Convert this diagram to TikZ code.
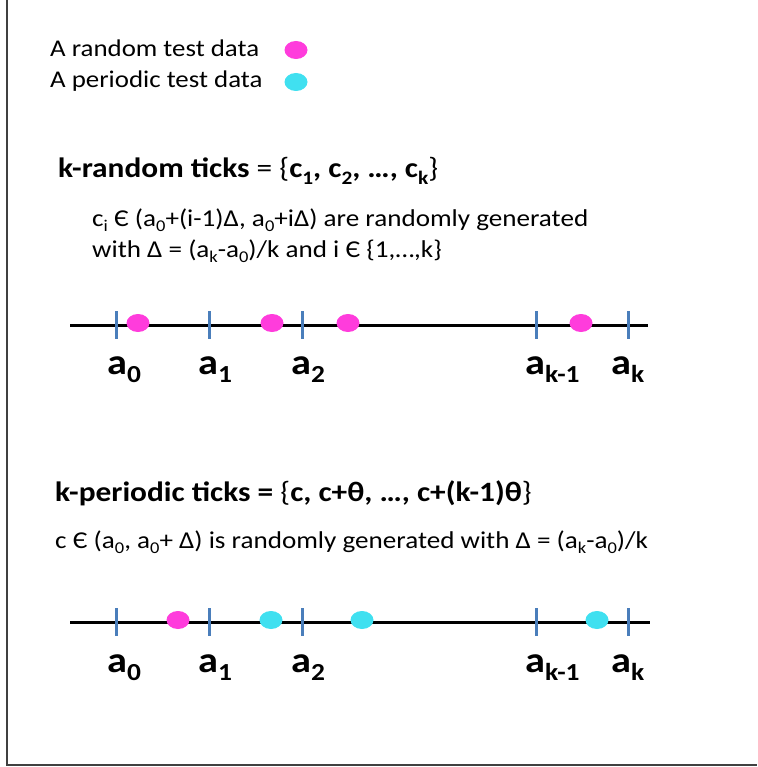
\documentclass[tikz,border=0pt]{standalone}
\usetikzlibrary{shapes.geometric}
\usepackage{graphicx}
\usepackage{fontspec}
\setmainfont[FakeStretch=1.12]{Carlito}
\definecolor{dotpink}{RGB}{255,60,220}
\definecolor{dotcyan}{RGB}{64,224,240}
\definecolor{tickblue}{RGB}{74,126,187}
\definecolor{framegray}{RGB}{64,64,64}
\newcommand{\sbs}[1]{\raisebox{-0.24em}{\scalebox{0.68}{#1}}}
\begin{document}
\begin{tikzpicture}[x=1pt,y=-1pt,
  txt/.style={inner sep=0pt,anchor=base west,font=\fontsize{24.2}{28}\selectfont},
  legtxt/.style={txt,font=\fontsize{24}{28}\selectfont},
  head/.style={inner sep=0pt,anchor=base west,font=\fontsize{28}{32}\selectfont},
  albl/.style={inner sep=0pt,anchor=base west,font=\fontsize{36}{40}\selectfont\bfseries},
  dot/.style={ellipse,minimum width=23pt,minimum height=18pt,inner sep=0pt},
  rdot/.style={dot,fill=dotpink},
  pdot/.style={dot,fill=dotcyan},
  axisline/.style={line width=3pt,black},
  tickmark/.style={line width=3pt,tickblue},
  frameline/.style={line width=2pt,framegray}]
\useasboundingbox (0,0) rectangle (757,767);
% frame
\coordinate (ftop) at (7,0);
\coordinate (fcorner) at (7,765);
\coordinate (fright) at (757,765);
\draw[frameline] (ftop) -- (fcorner) -- (fright);
% legend
\node[legtxt] (leg1) at (50,57) {A random test data};
\node[rdot] (legd1) at (296,50) {};
\node[legtxt] (leg2) at (50,88) {A periodic test data};
\node[pdot] (legd2) at (296,82) {};
% heading 1
\node[head] (h1) at (58,178) {{\bfseries k-random ticks} = \{{\bfseries c\sbs{1}, c\sbs{2}, …, c\sbs{k}}\}};
\node[txt] (b1) at (92,226) {c\sbs{i} Є (a\sbs{0}+(i-1)Δ, a\sbs{0}+iΔ) are randomly generated};
\node[txt] (b2) at (92,257) {with Δ = (a\sbs{k}-a\sbs{0})/k and i Є \{1,…,k\}};
% axis 1
\coordinate (s1) at (70,325);
\coordinate (e1) at (648,325);
\draw[axisline] (s1) -- (e1);
\foreach \n/\x in {0/116,1/209,2/302,km/536,k/628}{
  \coordinate (t1\n a) at (\x,311);
  \coordinate (t1\n b) at (\x,339);
  \draw[tickmark] (t1\n a) -- (t1\n b);
}
\node[rdot] (r1) at (138,323) {};
\node[rdot] (r2) at (272,323) {};
\node[rdot] (r3) at (348,323) {};
\node[rdot] (r4) at (581,323) {};
\node[albl] (a10) at (107,374) {a\sbs{0}};
\node[albl] (a11) at (198,374) {a\sbs{1}};
\node[albl] (a12) at (291,374) {a\sbs{2}};
\node[albl] (a1km) at (525,374) {a\sbs{k-1}};
\node[albl] (a1k) at (611,374) {a\sbs{k}};
% heading 2
\node[head] (h2) at (55,501) {{\bfseries k-periodic ticks =} \{{\bfseries c, c+θ, …, c+(k-1)θ}\}};
\node[txt] (b3) at (55,548) {c Є (a\sbs{0}, a\sbs{0}+ Δ) is randomly generated with Δ = (a\sbs{k}-a\sbs{0})/k};
% axis 2
\coordinate (s2) at (70,622);
\coordinate (e2) at (650,622);
\draw[axisline] (s2) -- (e2);
\foreach \n/\x in {0/116,1/209,2/302,km/536,k/628}{
  \coordinate (t2\n a) at (\x,608);
  \coordinate (t2\n b) at (\x,636);
  \draw[tickmark] (t2\n a) -- (t2\n b);
}
\node[rdot] (q1) at (178,620) {};
\node[pdot] (q2) at (271,620) {};
\node[pdot] (q3) at (362,620) {};
\node[pdot] (q4) at (597,620) {};
\node[albl] (a20) at (107,672) {a\sbs{0}};
\node[albl] (a21) at (198,672) {a\sbs{1}};
\node[albl] (a22) at (291,672) {a\sbs{2}};
\node[albl] (a2km) at (525,672) {a\sbs{k-1}};
\node[albl] (a2k) at (611,672) {a\sbs{k}};
\end{tikzpicture}
\end{document}
